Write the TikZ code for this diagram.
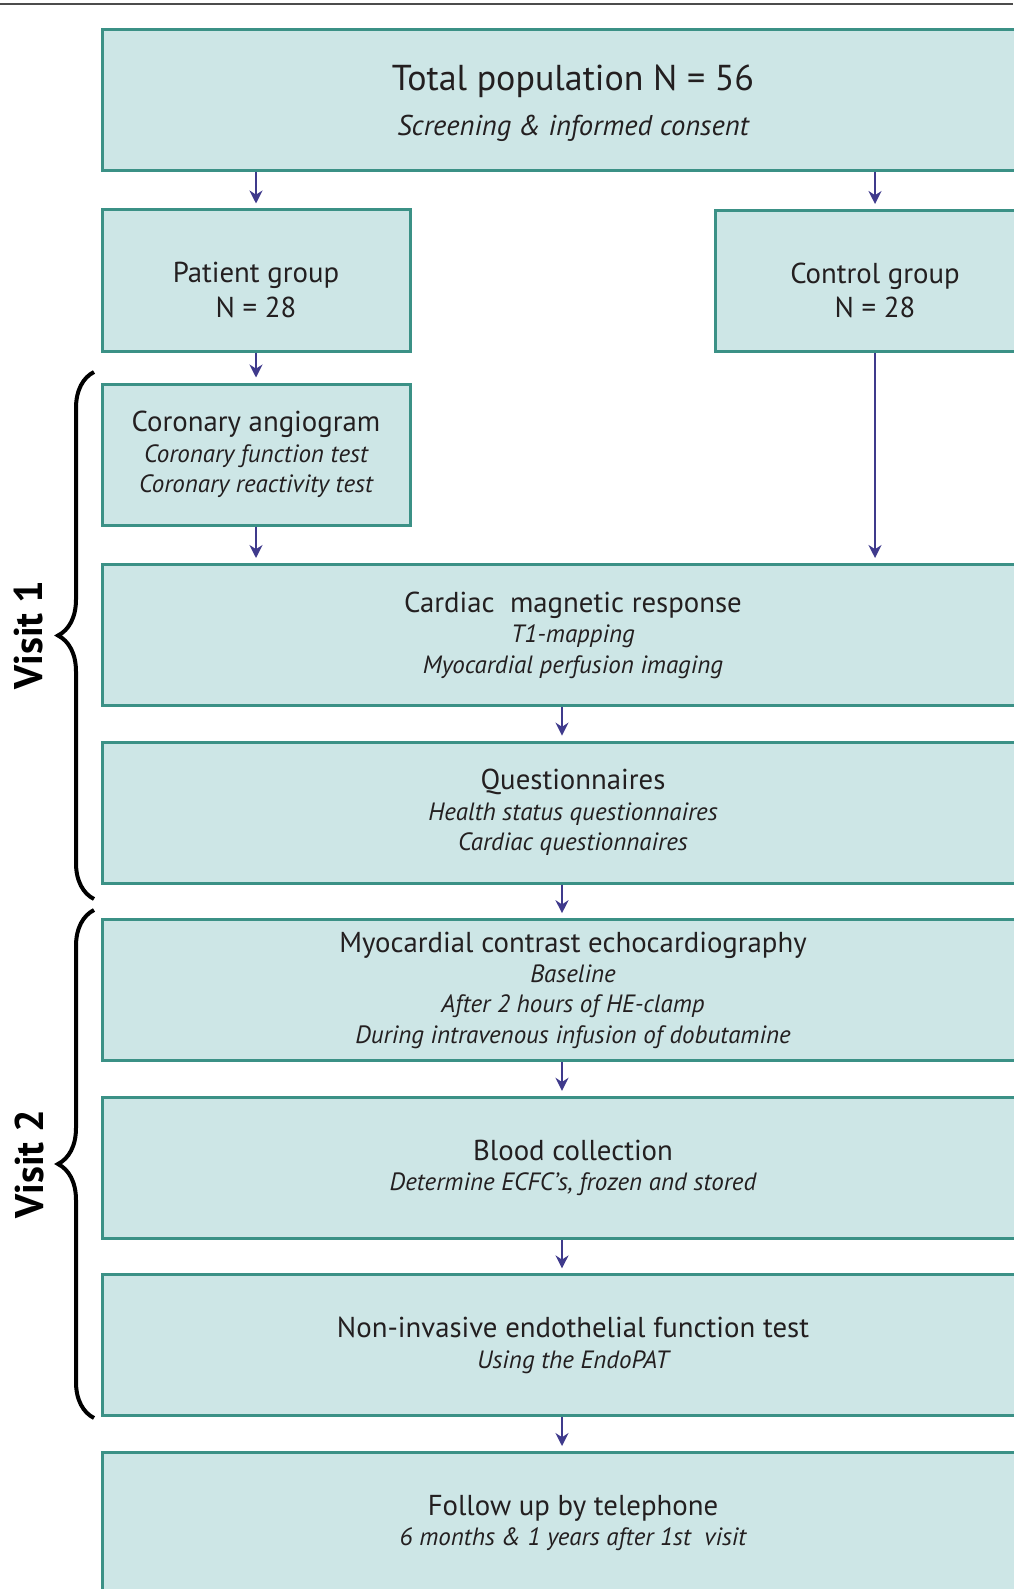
\documentclass[tikz,border=0pt]{standalone}
\usepackage{fontspec}
\setmainfont{PT Sans}
\usepackage{tikz}
\usetikzlibrary{positioning,calc,arrows.meta,decorations.pathreplacing}

\definecolor{boxfill}{HTML}{CDE6E6}
\definecolor{boxline}{HTML}{3B9186}
\definecolor{arrowblue}{HTML}{3F3A8C}
\definecolor{textgray}{HTML}{231F20}

\newcommand{\detail}[1]{{\fontsize{12.5}{15.2}\selectfont\itshape #1}}

\begin{document}
\begin{tikzpicture}[
    x=0.5pt, y=-0.5pt,
    >={Stealth[length=6.5pt,width=6.5pt]},
    node distance=16.8pt,
    stage/.style={draw=boxline, fill=boxfill, line width=1.5pt, minimum height=70.5pt,
        align=center, text=textgray, font=\fontsize{14.4}{15.2}\selectfont, inner sep=0pt},
    wide/.style={stage, minimum width=471pt},
    narrow/.style={stage, minimum width=154pt},
    flow/.style={->, draw=arrowblue, fill=arrowblue, line width=1pt, shorten >=2.5pt},
    visitbrace/.style={draw=black, line width=2pt, decorate, decoration={brace, amplitude=18pt}},
    visitlabel/.style={rotate=90, text=black, font=\bfseries\fontsize{20}{24}\selectfont}
]
    \useasboundingbox (0,0) rectangle (1013,1589);
    \draw[black!70, line width=0.8pt] (0,4) -- (1013,4);

    % Boxes - enrolment at top, the two groups side by side
    \node[wide] (total) at (573,100)
        {\rule{0pt}{16pt}{\fontsize{18}{22}\selectfont Total population N = 56}\\[7pt]
         {\fontsize{14.3}{16}\selectfont\itshape Screening \& informed consent}};
    \node[narrow] (patient) at (256,280.5) {\rule{0pt}{19.5pt}Patient group\\[2pt]N = 28};
    \node[stage, minimum width=160pt] (control) at (875,281) {\rule{0pt}{19.5pt}Control group\\[2pt]N = 28};
    \node[narrow, below=15pt of patient] (coronary)
        {Coronary angiogram\\\detail{Coronary function test}\\\detail{Coronary reactivity test}};

    % Visit 1 and visit 2 - full width chain
    \node[wide] (cardiac) at (573,635)
        {Cardiac\ \ magnetic response\\\detail{T1-mapping}\\\detail{Myocardial perfusion imaging}};
    \node[wide, below=of cardiac] (questionnaires)
        {Questionnaires\\\detail{Health status questionnaires}\\\detail{Cardiac questionnaires}};
    \node[wide, below=of questionnaires] (echo)
        {Myocardial contrast echocardiography\\\detail{Baseline}\\\detail{After 2 hours of HE-clamp}\\
         \detail{During intravenous infusion of dobutamine}};
    \node[wide, below=of echo] (blood)
        {Blood collection\\\detail{Determine ECFC's, frozen and stored}};
    \node[wide, below=of blood] (endopat)
        {Non-invasive endothelial function test\\\detail{Using the EndoPAT}};
    \node[wide, below=of endopat] (followup)
        {Follow up by telephone\\\detail{6 months \& 1 years after 1st\ \ visit}};

    \coordinate (mid) at (562,0);

    % Arrows
    \draw[flow] (total.south -| patient) -- (patient);
    \draw[flow] (total.south -| control) -- (control);
    \draw[flow] (patient) -- (coronary);
    \draw[flow] (coronary) -- (coronary |- cardiac.north);
    \draw[flow] (control) -- (control |- cardiac.north);
    \draw[flow] (cardiac.south -| mid) -- (questionnaires.north -| mid);
    \draw[flow] (questionnaires.south -| mid) -- (echo.north -| mid);
    \draw[flow] (echo.south -| mid) -- (blood.north -| mid);
    \draw[flow] (blood.south -| mid) -- (endopat.north -| mid);
    \draw[flow] (endopat.south -| mid) -- (followup.north -| mid);

    % Braces for the visits
    \draw[visitbrace] (94,899) -- (94,372);
    \draw[visitbrace] (94,1418) -- (94,910);
    \node[visitlabel] (visitone) at (29,635) {Visit 1};
    \node[visitlabel] (visittwo) at (29,1164) {Visit 2};

\end{tikzpicture}
\end{document}
